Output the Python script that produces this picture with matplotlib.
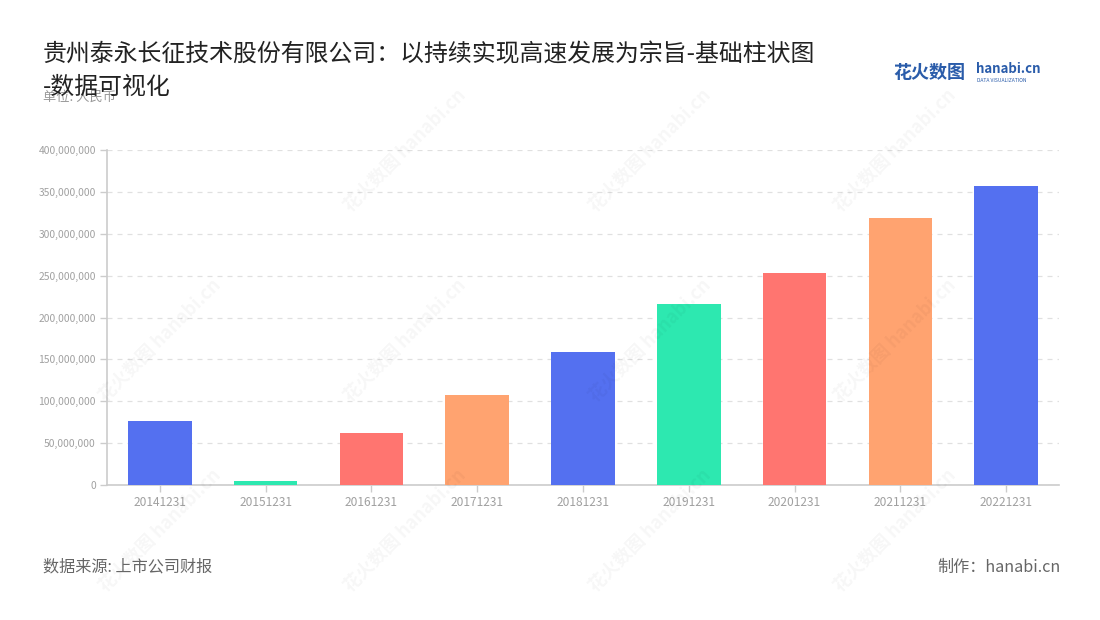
import matplotlib
matplotlib.use("Agg")
import matplotlib.pyplot as plt
from matplotlib.ticker import FuncFormatter

plt.rcParams['font.family'] = ['Noto Sans CJK SC', 'DejaVu Sans']

# Data
dates = ['20141231', '20151231', '20161231', '20171231', '20181231',
         '20191231', '20201231', '20211231', '20221231']
values = [76.5e6, 4.5e6, 62.5e6, 107.5e6, 159e6, 216e6, 253.5e6, 318.5e6, 357e6]
palette = ['#5470F0', '#2DE8B0', '#FF7570', '#FFA370']

title1 = "贵州泰永长征技术股份有限公司：以持续实现高速发展为宗旨-基础柱状图"
title2 = "-数据可视化"

W, H = 1100, 620
fig = plt.figure(figsize=(11, 6.2), dpi=100)
ax = fig.add_axes([0.0973, 0.2177, 0.8654, 0.5403])

colors = [palette[i % 4] for i in range(len(dates))]
ax.bar(range(len(dates)), values, width=0.6, color=colors, zorder=3)

ax.set_xlim(-0.5, len(dates) - 0.5)
ax.set_ylim(0, 400e6)
ax.set_yticks([i * 50e6 for i in range(9)])
ax.yaxis.set_major_formatter(FuncFormatter(lambda v, p: f"{int(v):,}"))
ax.set_xticks(range(len(dates)))
ax.set_xticklabels(dates)

ax.grid(axis='y', linestyle=(0, (4, 4)), color='#e0e0e0', linewidth=0.9, zorder=0)
for s in ['top', 'right']:
    ax.spines[s].set_visible(False)
ax.spines['left'].set_color('#cccccc')
ax.spines['bottom'].set_color('#cccccc')
ax.spines['left'].set_linewidth(1.2)
ax.spines['bottom'].set_linewidth(1.2)
ax.tick_params(axis='both', colors='#cccccc', labelcolor='#a0a0a0', length=5, width=1)
ax.tick_params(axis='y', labelsize=7.4, pad=3)
ax.tick_params(axis='x', labelsize=8.6, pad=3)

# watermarks
for wx in [160, 405, 650, 895]:
    for wy in [150, 340, 530]:
        if wx == 160 and wy == 150:
            continue
        fig.text(wx / W, 1 - wy / H, "花火数图 hanabi.cn", rotation=45, fontsize=13, color='#000000',
                 alpha=0.035, ha='center', va='center', fontweight='bold')

fig.text(43 / W, 1 - 97 / H, "单位: 人民币", fontsize=9.5, color='#999999', va='center')
fig.text(43 / W, 1 - 55 / H, title1, fontsize=17.2, color='#222222', va='center')
fig.text(43 / W, 1 - 87 / H, title2, fontsize=17.2, color='#222222', va='center')

# logo
fig.text(893 / W, 1 - 73 / H, "花火数图", fontsize=13, color='#2a5caa', fontweight='bold', va='center')
fig.text(976 / W, 1 - 69 / H, "hanabi.cn", fontsize=9.5, color='#2a5caa', fontweight='bold', va='center')
fig.text(977 / W, 1 - 80 / H, "DATA VISUALIZATION", fontsize=3.6, color='#2a5caa', va='center')

fig.text(43 / W, 1 - 567 / H, "数据来源: 上市公司财报", fontsize=11.6, color='#666666', va='center')
fig.text(1061 / W, 1 - 567 / H, "制作：hanabi.cn", fontsize=11.6, color='#666666', va='center', ha='right')

fig.savefig("out.png", dpi=100, facecolor='white')
